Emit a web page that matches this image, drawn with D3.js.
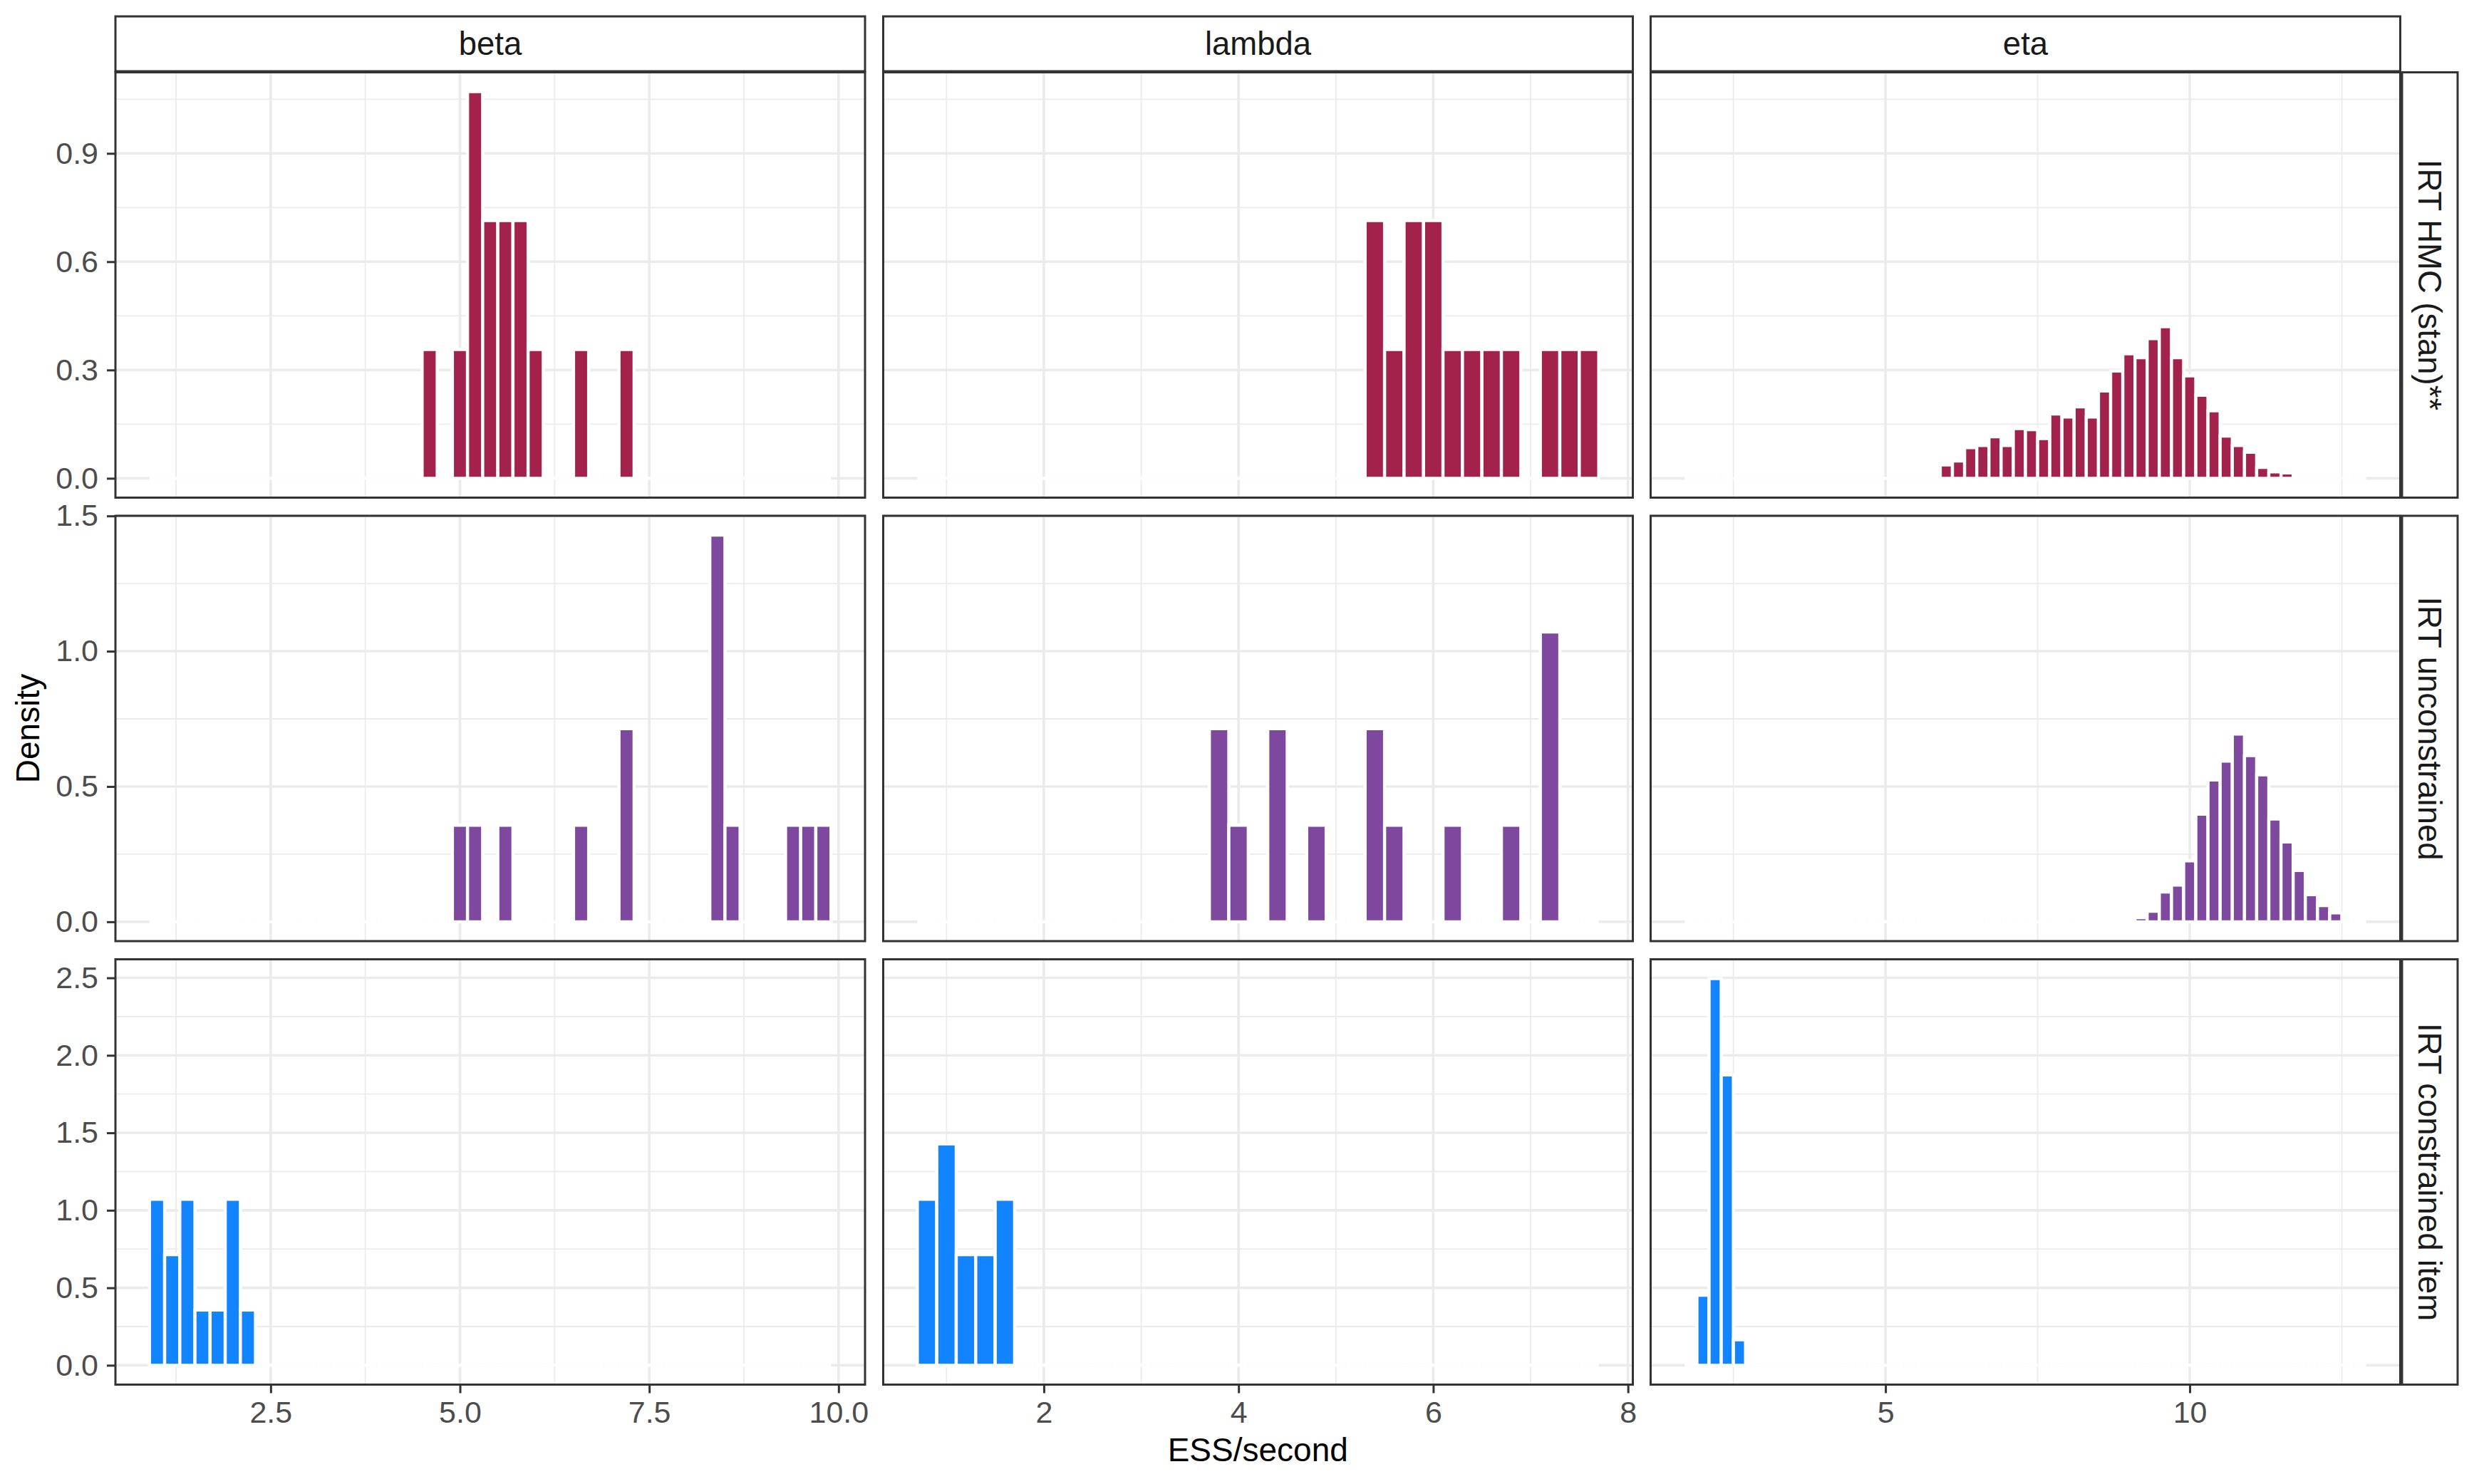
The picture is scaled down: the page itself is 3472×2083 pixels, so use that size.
<!DOCTYPE html>
<html lang="en">
<head>
<meta charset="UTF-8">
<title>ESS/second histograms</title>
<script src="https://cdn.jsdelivr.net/npm/d3@7"></script>
<style>
    body { margin: 0; background: #fff; }
    .axis path.domain { display: none; }
    .axis line { stroke: #333333; stroke-width: 3; }
    .axis text { font-family: "Liberation Sans", Arial, sans-serif; font-size: 43px; fill: #4D4D4D; }
    .strip text { font-family: "Liberation Sans", Arial, sans-serif; font-size: 45.5px; fill: #1A1A1A; }
    .title { font-family: "Liberation Sans", Arial, sans-serif; font-size: 46px; fill: #000; }
</style>
</head>
<body>
<script>
// facets
var params = ["beta", "lambda", "eta"];
var models = ["IRT HMC (stan)**", "IRT unconstrained", "IRT constrained item"];
var binWidth = 0.2;
var binRange = [[0.9, 9.9], [0.7, 7.7], [1.7, 12.9]];   // bin edges per column

// densities per bin (bin centre -> density)
var betaHmcX = [4.6, 5.0, 5.2, 5.4, 5.6, 5.8, 6.0, 6.6, 7.2];
var betaHmcY = [0.357, 0.357, 1.071, 0.714, 0.714, 0.714, 0.357, 0.357, 0.357];
var lambdaHmcX = [5.4, 5.6, 5.8, 6.0, 6.2, 6.4, 6.6, 6.8, 7.2, 7.4, 7.6];
var lambdaHmcY = [0.714, 0.357, 0.714, 0.714, 0.357, 0.357, 0.357, 0.357, 0.357, 0.357, 0.357];
var etaHmcX = [6.0, 6.2, 6.4, 6.6, 6.8, 7.0, 7.2, 7.4, 7.6, 7.8, 8.0, 8.2, 8.4, 8.6, 8.8,
               9.0, 9.2, 9.4, 9.6, 9.8, 10.0, 10.2, 10.4, 10.6, 10.8, 11.0, 11.2, 11.4, 11.6];
var etaHmcY = [0.037, 0.048, 0.085, 0.091, 0.115, 0.091, 0.138, 0.135, 0.110, 0.178, 0.170, 0.198, 0.170, 0.242, 0.297,
               0.345, 0.334, 0.387, 0.420, 0.334, 0.284, 0.230, 0.187, 0.117, 0.091, 0.072, 0.030, 0.018, 0.015];

var betaFreeX = [5.0, 5.2, 5.6, 6.6, 7.2, 8.4, 8.6, 9.4, 9.6, 9.8];
var betaFreeY = [0.357, 0.357, 0.357, 0.357, 0.714, 1.429, 0.357, 0.357, 0.357, 0.357];
var lambdaFreeX = [3.8, 4.0, 4.4, 4.8, 5.4, 5.6, 6.2, 6.8, 7.2];
var lambdaFreeY = [0.714, 0.357, 0.714, 0.357, 0.714, 0.357, 0.357, 0.357, 1.071];
var etaFreeX = [9.2, 9.4, 9.6, 9.8, 10.0, 10.2, 10.4, 10.6, 10.8, 11.0, 11.2, 11.4, 11.6, 11.8, 12.0, 12.2, 12.4];
var etaFreeY = [0.015, 0.039, 0.110, 0.136, 0.225, 0.398, 0.524, 0.594, 0.694, 0.614, 0.543, 0.380, 0.295, 0.190, 0.100, 0.060, 0.033];

var betaConX = [1.0, 1.2, 1.4, 1.6, 1.8, 2.0, 2.2];
var betaConY = [1.071, 0.714, 1.071, 0.357, 0.357, 1.071, 0.357];
var lambdaConX = [0.8, 1.0, 1.2, 1.4, 1.6];
var lambdaConY = [1.071, 1.429, 0.714, 0.714, 1.071];
var etaConX = [2.0, 2.2, 2.4, 2.6];
var etaConY = [0.452, 2.495, 1.874, 0.165];

// ticks
var xTicks = [[2.5, 5, 7.5, 10], [2, 4, 6, 8], [5, 10]];
var xTickLabels = [["2.5", "5.0", "7.5", "10.0"], ["2", "4", "6", "8"], ["5", "10"]];
var yTicks = [[0, 0.3, 0.6, 0.9], [0, 0.5, 1, 1.5], [0, 0.5, 1, 1.5, 2, 2.5]];
var yTickLabels = [["0.0", "0.3", "0.6", "0.9"], ["0.0", "0.5", "1.0", "1.5"], ["0.0", "0.5", "1.0", "1.5", "2.0", "2.5"]];

var fills = ["#A3224C", "#7E489E", "#1384FF"];

var panelData = [
    [[betaHmcX, betaHmcY], [lambdaHmcX, lambdaHmcY], [etaHmcX, etaHmcY]],
    [[betaFreeX, betaFreeY], [lambdaFreeX, lambdaFreeY], [etaFreeX, etaFreeY]],
    [[betaConX, betaConY], [lambdaConX, lambdaConY], [etaConX, etaConY]]
];

// layout
var width = 3472, height = 2083;
var colLeft = [162, 1239.5, 2316.5];
var rowTop = [101.5, 724, 1346.5];
var panelW = 1052, panelH = 597;
var stripTop = 23, stripH = 77;
var rStripX = 3371, rStripW = 78;

var svg = d3.select("body").append("svg")
    .attr("width", width)
    .attr("height", height);

// full bin list for a panel, empty bins get 0
function makeBins(c, r) {
    var lo = binRange[c][0], hi = binRange[c][1];
    var n = Math.round((hi - lo) / binWidth);
    var xs = panelData[r][c][0], ys = panelData[r][c][1];
    var dens = new Array(n).fill(0);
    xs.forEach(function(x, i) {
        var k = Math.round((x - lo - binWidth / 2) / binWidth);
        if (k >= 0 && k < n) dens[k] = ys[i];
    });
    return dens.map(function(d, k) {
        return { x0: lo + k * binWidth, x1: lo + (k + 1) * binWidth, d: d };
    });
}

function minorBreaks(ticks, domain) {
    var step = ticks[1] - ticks[0];
    var ext = [ticks[0] - step].concat(ticks, [ticks[ticks.length - 1] + step]);
    var out = [];
    for (var i = 0; i < ext.length - 1; i++) {
        var m = (ext[i] + ext[i + 1]) / 2;
        if (m > domain[0] && m < domain[1]) out.push(m);
    }
    return out;
}

// scales: free x per column, free y per row, 5% expansion like ggplot
var xScales = binRange.map(function(b, c) {
    var pad = 0.05 * (b[1] - b[0]);
    return d3.scaleLinear().domain([b[0] - pad, b[1] + pad]).range([colLeft[c], colLeft[c] + panelW]);
});
var yScales = panelData.map(function(row, r) {
    var mx = d3.max(row, function(p) { return d3.max(p[1]); });
    return d3.scaleLinear().domain([-0.05 * mx, 1.05 * mx]).range([rowTop[r] + panelH, rowTop[r]]);
});

for (var r = 0; r < 3; r++) {
    for (var c = 0; c < 3; c++) {
        var x = xScales[c], y = yScales[r];
        var g = svg.append("g");

        var xd = x.domain(), yd = y.domain();
        var xin = xTicks[c].filter(function(t) { return t >= xd[0] && t <= xd[1]; });
        var yin = yTicks[r].filter(function(t) { return t >= yd[0] && t <= yd[1]; });

        // minor grid
        g.selectAll(".vminor").data(minorBreaks(xTicks[c], xd)).enter().append("line")
            .attr("x1", x).attr("x2", x)
            .attr("y1", rowTop[r]).attr("y2", rowTop[r] + panelH)
            .attr("stroke", "#EBEBEB").attr("stroke-width", 1.8);
        g.selectAll(".hminor").data(minorBreaks(yTicks[r], yd)).enter().append("line")
            .attr("y1", y).attr("y2", y)
            .attr("x1", colLeft[c]).attr("x2", colLeft[c] + panelW)
            .attr("stroke", "#EBEBEB").attr("stroke-width", 1.8);
        // major grid
        g.selectAll(".vmajor").data(xin).enter().append("line")
            .attr("x1", x).attr("x2", x)
            .attr("y1", rowTop[r]).attr("y2", rowTop[r] + panelH)
            .attr("stroke", "#EBEBEB").attr("stroke-width", 3.6);
        g.selectAll(".hmajor").data(yin).enter().append("line")
            .attr("y1", y).attr("y2", y)
            .attr("x1", colLeft[c]).attr("x2", colLeft[c] + panelW)
            .attr("stroke", "#EBEBEB").attr("stroke-width", 3.6);

        // histogram bars (white outline, zero bins become a white line)
        g.selectAll(".bar").data(makeBins(c, r)).enter().append("path")
            .attr("d", function(b) {
                return "M" + x(b.x0) + "," + y(0) + "H" + x(b.x1) + "V" + y(b.d) + "H" + x(b.x0) + "Z";
            })
            .attr("fill", fills[r])
            .attr("stroke", "#fff")
            .attr("stroke-width", 4.4);

        // panel border
        g.append("rect")
            .attr("x", colLeft[c]).attr("y", rowTop[r])
            .attr("width", panelW).attr("height", panelH)
            .attr("fill", "none").attr("stroke", "#333333").attr("stroke-width", 3);

        if (c === 0) {
            var labs = yTickLabels[r];
            svg.append("g").attr("class", "axis")
                .attr("transform", "translate(" + colLeft[c] + ",0)")
                .call(d3.axisLeft(y).tickValues(yTicks[r]).tickSize(12).tickPadding(12)
                    .tickFormat(function(d, i) { return labs[i]; }));
        }
        if (r === 2) {
            var xl = xTickLabels[c];
            svg.append("g").attr("class", "axis")
                .attr("transform", "translate(0," + (rowTop[r] + panelH) + ")")
                .call(d3.axisBottom(x).tickValues(xTicks[c]).tickSize(12).tickPadding(11)
                    .tickFormat(function(d, i) { return xl[i]; }));
        }
    }
}

// top strips
var topStrips = svg.selectAll(".topstrip").data(params).enter().append("g").attr("class", "strip");
topStrips.append("rect")
    .attr("x", function(d, i) { return colLeft[i]; })
    .attr("y", stripTop).attr("width", panelW).attr("height", stripH)
    .attr("fill", "#fff").attr("stroke", "#333333").attr("stroke-width", 3);
topStrips.append("text")
    .attr("x", function(d, i) { return colLeft[i] + panelW / 2; })
    .attr("y", stripTop + stripH / 2)
    .attr("dy", "0.35em")
    .attr("text-anchor", "middle")
    .text(function(d) { return d; });

// right strips
var sideStrips = svg.selectAll(".sidestrip").data(models).enter().append("g").attr("class", "strip");
sideStrips.append("rect")
    .attr("x", rStripX).attr("y", function(d, i) { return rowTop[i]; })
    .attr("width", rStripW).attr("height", panelH)
    .attr("fill", "#fff").attr("stroke", "#333333").attr("stroke-width", 3);
sideStrips.append("text")
    .attr("transform", function(d, i) {
        return "translate(" + (rStripX + rStripW / 2) + "," + (rowTop[i] + panelH / 2) + ") rotate(90)";
    })
    .attr("dy", "0.35em")
    .attr("text-anchor", "middle")
    .text(function(d) { return d; });

// axis titles
svg.append("text").attr("class", "title")
    .attr("x", (colLeft[0] + colLeft[2] + panelW) / 2)
    .attr("y", 2051)
    .attr("text-anchor", "middle")
    .text("ESS/second");
svg.append("text").attr("class", "title")
    .attr("transform", "translate(55," + (rowTop[0] + rowTop[2] + panelH) / 2 + ") rotate(-90)")
    .attr("text-anchor", "middle")
    .text("Density");
</script>
</body>
</html>
